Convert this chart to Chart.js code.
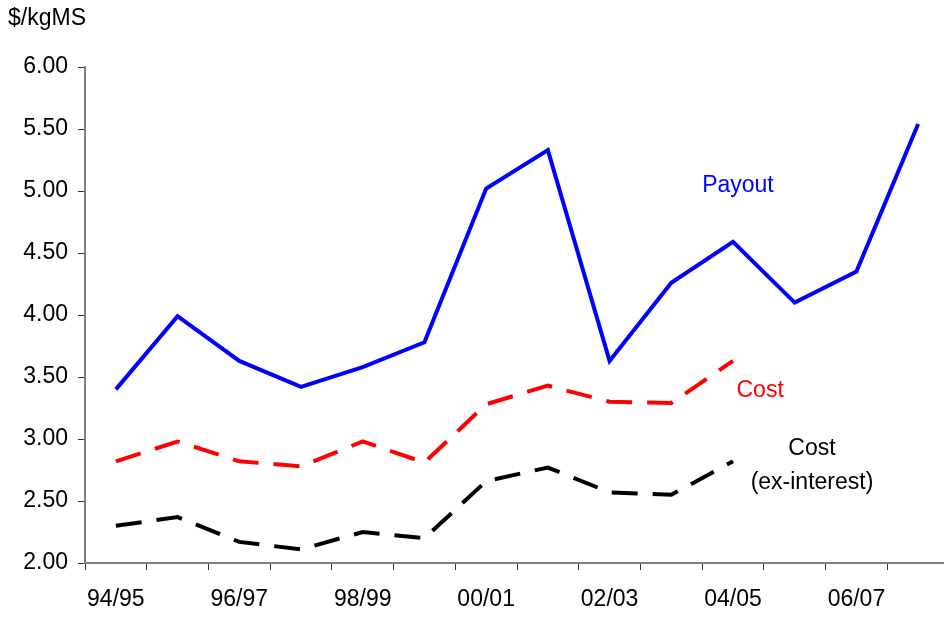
<!DOCTYPE html>
<html>
<head>
<meta charset="utf-8">
<script src="https://cdn.jsdelivr.net/npm/chart.js@4/dist/chart.umd.min.js"></script>
<style>
  html, body { margin: 0; padding: 0; overflow: hidden; background: #fff; }
  #wrap { width: 950px; height: 617px; }
</style>
</head>
<body>
<div id="wrap"><canvas id="c" width="950" height="617"></canvas></div>
<script>
// ---- data ----
const seasons = ['94/95','95/96','96/97','97/98','98/99','99/00','00/01','01/02','02/03','03/04','04/05','05/06','06/07','07/08'];
const payout = [3.40, 3.99, 3.63, 3.42, 3.58, 3.78, 5.02, 5.33, 3.63, 4.26, 4.59, 4.10, 4.35, 5.54];
const cost = [2.82, 2.98, 2.82, 2.78, 2.98, 2.81, 3.28, 3.43, 3.30, 3.29, 3.63, null, null, null];
const costExInterest = [2.30, 2.37, 2.17, 2.11, 2.25, 2.20, 2.66, 2.77, 2.57, 2.55, 2.82, null, null, null];
const yAxisTitle = '$/kgMS';
const seriesNotes = ['Payout', 'Cost', 'Cost', '(ex-interest)'];

// ---- styling / placement (data units) ----
const FONT = "'Liberation Sans', Arial, sans-serif";
const FS = 23;
const notePlacement = [
  { x: 10.08, y: 5.04, color: '#0000ff' },
  { x: 10.44, y: 3.39, color: '#ff0000' },
  { x: 11.28, y: 2.92, color: '#000000' },
  { x: 11.28, y: 2.65, color: '#000000' }
];

const notesPlugin = {
  id: 'notes',
  afterDatasetsDraw(chart) {
    const ctx = chart.ctx;
    const xs = chart.scales.x, ys = chart.scales.y;
    ctx.save();
    ctx.font = FS + 'px ' + FONT;
    ctx.textAlign = 'center';
    ctx.textBaseline = 'middle';
    seriesNotes.forEach((t, i) => {
      const p = notePlacement[i];
      ctx.fillStyle = p.color;
      ctx.fillText(t, xs.getPixelForValue(p.x), ys.getPixelForValue(p.y));
    });
    // y axis unit title
    ctx.fillStyle = '#000';
    ctx.textAlign = 'left';
    ctx.fillText(yAxisTitle, 8, chart.chartArea.top - 48);
    ctx.restore();
  }
};

new Chart(document.getElementById('c'), {
  type: 'line',
  data: {
    labels: seasons,
    datasets: [
      { label: 'Payout', data: payout, borderColor: '#0000ff', borderWidth: 4, pointRadius: 0, tension: 0, borderJoinStyle: 'miter' },
      { label: 'Cost', data: cost, borderColor: '#ff0000', borderWidth: 4, borderDash: [26, 15], pointRadius: 0, tension: 0, borderJoinStyle: 'miter', spanGaps: false },
      { label: 'Cost (ex-interest)', data: costExInterest, borderColor: '#000000', borderWidth: 4, borderDash: [26, 15], pointRadius: 0, tension: 0, borderJoinStyle: 'miter', spanGaps: false }
    ]
  },
  options: {
    responsive: false,
    animation: false,
    devicePixelRatio: 1,
    layout: { padding: { top: 67, left: 8, right: 1, bottom: 0 } },
    plugins: { legend: { display: false }, tooltip: { enabled: false }, title: { display: false } },
    scales: {
      x: {
        type: 'category',
        offset: true,
        grid: { offset: true, drawOnChartArea: false, drawTicks: true, tickLength: 7, color: '#333333', lineWidth: 1 },
        border: { color: '#808080', width: 2 },
        ticks: {
          autoSkip: false, maxRotation: 0, minRotation: 0, padding: 16,
          color: '#000', font: { family: FONT, size: FS },
          callback: function(v, i) { return i % 2 === 0 ? this.getLabelForValue(v) : ''; }
        },
        afterFit: (s) => { s.height = 54; }
      },
      y: {
        min: 2, max: 6,
        grid: { drawOnChartArea: false, drawTicks: true, tickLength: 7, color: '#333333', lineWidth: 1 },
        border: { color: '#808080', width: 2 },
        ticks: {
          stepSize: 0.5, padding: 10, color: '#000', font: { family: FONT, size: FS },
          callback: (v) => Number(v).toFixed(2)
        },
        afterFit: (s) => { s.width = 77; }
      }
    }
  },
  plugins: [notesPlugin]
});
</script>
</body>
</html>
